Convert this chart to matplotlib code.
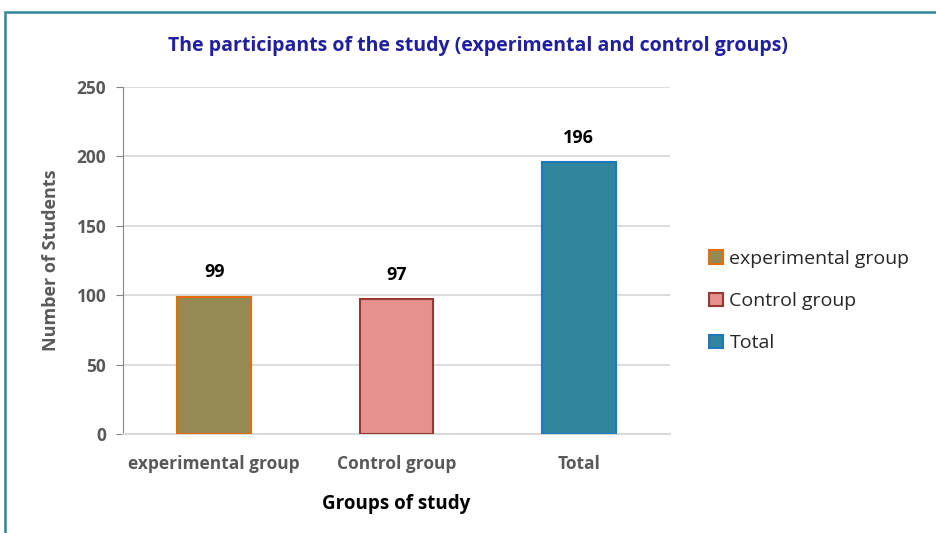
import matplotlib.pyplot as plt
from matplotlib.patches import Rectangle, Patch

groups = ['experimental group', 'Control group', 'Total']
students = [99, 97, 196]
fills = ['#948A54', '#E6918E', '#31859C']
edges = ['#E46C0A', '#953735', '#1F77C0']

plt.rcParams['font.family'] = ['Open Sans', 'DejaVu Sans']

fig = plt.figure(figsize=(9.37, 5.33), dpi=100)
ax = fig.add_axes([0.1313, 0.1857, 0.5837, 0.6511])

x = range(len(groups))
bars = ax.bar(x, students, width=0.405, color=fills, edgecolor=edges, linewidth=1.5, zorder=3)

for b, v in zip(bars, students):
    ax.annotate(str(v), (b.get_x() + b.get_width() / 2, v), xytext=(0, 11),
                textcoords='offset points', ha='center', va='bottom',
                fontsize=13, fontweight='bold', color='black')

ax.set_xlim(-0.5, 2.5)
ax.set_ylim(0, 250)
ax.set_yticks(range(0, 251, 50))
ax.set_xticks(list(x))
ax.set_xticklabels(groups)
ax.yaxis.grid(True, color='#D9D9D9', linewidth=1.3, zorder=0)
ax.set_axisbelow(True)

for s in ['top', 'right']:
    ax.spines[s].set_visible(False)
ax.spines['left'].set_color('#868686')
ax.spines['bottom'].set_color('#D9D9D9')
ax.spines['bottom'].set_linewidth(1.5)
ax.tick_params(axis='y', length=5, color='#868686', labelcolor='#595959', labelsize=12.5, pad=7)
ax.tick_params(axis='x', length=0, labelcolor='#595959', labelsize=12.5, pad=15)
for lab in ax.get_yticklabels() + ax.get_xticklabels():
    lab.set_fontweight('bold')

ax.set_ylabel('Number of Students', fontsize=13, fontweight='bold', color='#595959', labelpad=12)
ax.set_xlabel('Groups of study', fontsize=13.5, fontweight='bold', color='black', labelpad=15)

fig.text(0.51, 0.914, 'The participants of the study (experimental and control groups)',
         ha='center', va='center', fontsize=14, fontweight='bold', color='#1F1FA0')

handles = [Patch(facecolor=f, edgecolor=e, linewidth=1.5) for f, e in zip(fills, edges)]
fig.legend(handles, groups, loc='center left', bbox_to_anchor=(0.738, 0.435), frameon=False,
           fontsize=14, handlelength=0.7, handleheight=0.7, handletextpad=0.35,
           labelspacing=1.25, labelcolor='#262626')

fig.patches.append(Rectangle((0.005, -0.1), 1.2, 0.078 + 1.0, transform=fig.transFigure,
                             fill=False, edgecolor='#31859C', linewidth=1.8))

fig.savefig('out.png', dpi=100)
